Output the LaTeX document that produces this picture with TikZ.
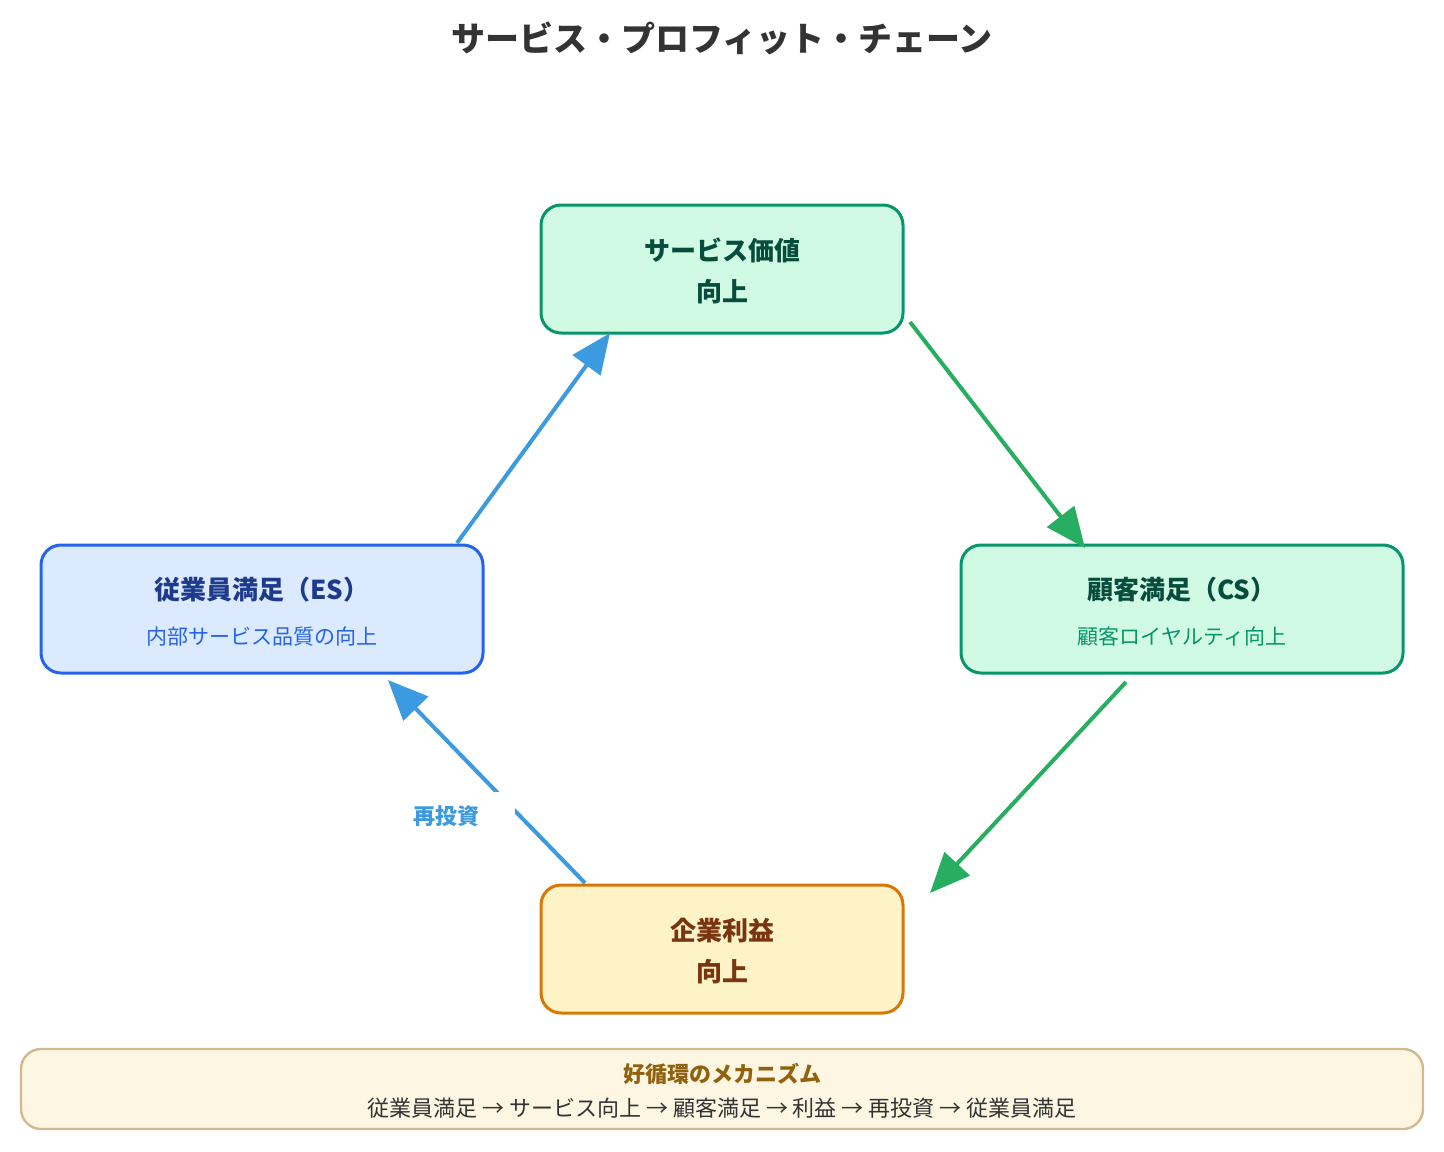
\documentclass[tikz,border=0pt]{standalone}
\usepackage{fontspec}
\setmainfont{Noto Sans CJK JP}
\usetikzlibrary{arrows.meta}
\definecolor{gfill}{HTML}{D1FAE5}\definecolor{gborder}{HTML}{059669}\definecolor{gtext}{HTML}{064E3B}
\definecolor{bfill}{HTML}{DBEAFE}\definecolor{bborder}{HTML}{2563EB}\definecolor{btext}{HTML}{1E3A8A}
\definecolor{ofill}{HTML}{FEF3C7}\definecolor{oborder}{HTML}{D97706}\definecolor{otext}{HTML}{78350F}
\definecolor{nfill}{HTML}{FDF6E3}\definecolor{nborder}{HTML}{D4B98E}\definecolor{ntext}{HTML}{92610E}
\definecolor{barrow}{HTML}{3B9AE0}\definecolor{garrow}{HTML}{27AE60}\definecolor{ink}{HTML}{333333}
\begin{document}
\begin{tikzpicture}[x=0.5pt,y=-0.5pt,
 box/.style={draw,line width=1.5pt,rounded corners=10pt},
 arr/.style={line width=2pt,-{Triangle[length=20pt,width=17pt]}},
 ttl/.style={font=\bfseries\fontsize{13}{20.5}\selectfont,align=center},
 sub/.style={font=\fontsize{10.5}{13}\selectfont}]
\useasboundingbox (0,0) rectangle (1444,1151);
\node[font=\bfseries\fontsize{17}{20}\selectfont,text=ink] (title) at (722,38) {サービス・プロフィット・チェーン};
\draw[box,fill=gfill,draw=gborder] (541,205) rectangle (903,333);
\node[ttl,text=gtext] (sv) at (722,271) {サービス価値\\向上};
\draw[box,fill=bfill,draw=bborder] (41,545) rectangle (483,673);
\node[ttl,text=btext] (es) at (262,590) {従業員満足（ES）};
\node[sub,text=bborder] (ess) at (262,637) {内部サービス品質の向上};
\draw[box,fill=gfill,draw=gborder] (961,545) rectangle (1403,673);
\node[ttl,text=gtext] (cs) at (1182,590) {顧客満足（CS）};
\node[sub,text=gborder] (css) at (1182,637) {顧客ロイヤルティ向上};
\draw[box,fill=ofill,draw=oborder] (541,885) rectangle (903,1013);
\node[ttl,text=otext] (pr) at (722,951) {企業利益\\向上};
\coordinate (a1) at (457,543); \coordinate (a2) at (610,333);
\coordinate (b1) at (910,322); \coordinate (b2) at (1085,548);
\coordinate (c1) at (1126,682); \coordinate (c2) at (930,893);
\coordinate (d1) at (585,883); \coordinate (d2) at (388,680);
\draw[arr,barrow] (a1) -- (a2);
\draw[arr,garrow] (b1) -- (b2);
\draw[arr,garrow] (c1) -- (c2);
\draw[arr,barrow] (d1) -- (d2);
\fill[white] (490,792) rectangle (515,835);
\node[fill=white,font=\bfseries\fontsize{11}{13}\selectfont,text=barrow] (ri) at (446,816) {再投資};
\draw[line width=1.2pt,draw=nborder,fill=nfill,rounded corners=10pt] (21,1049) rectangle (1423,1129);
\node[font=\bfseries\fontsize{11}{13}\selectfont,text=ntext] (nt) at (722,1074) {好循環のメカニズム};
\node[font=\fontsize{11}{13}\selectfont,text=ink] (nl) at (722,1108) {従業員満足 → サービス向上 → 顧客満足 → 利益 → 再投資 → 従業員満足};
\end{tikzpicture}
\end{document}
